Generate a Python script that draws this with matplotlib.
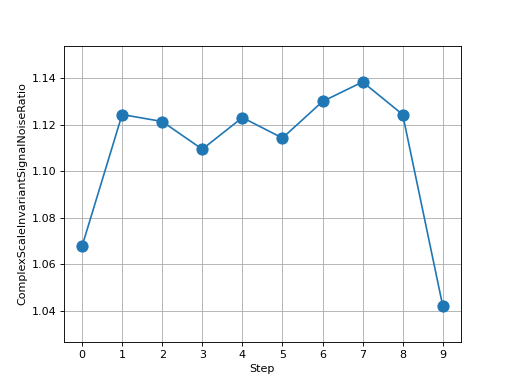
import matplotlib
matplotlib.use("Agg")
import matplotlib.pyplot as plt

steps = [0, 1, 2, 3, 4, 5, 6, 7, 8, 9]
snr = [1.0677, 1.1243, 1.1213, 1.1094, 1.1230, 1.1142, 1.1299, 1.1383, 1.1243, 1.0421]

fig, ax = plt.subplots(figsize=(6.4, 4.8), dpi=80)
ax.plot(steps, snr, marker="o", markersize=10)
ax.set_xticks(steps)
ax.set_ylim(1.0267, 1.1537)
ax.set_xlabel("Step")
ax.set_ylabel("ComplexScaleInvariantSignalNoiseRatio")
ax.grid(True)
fig.savefig("out.png")
